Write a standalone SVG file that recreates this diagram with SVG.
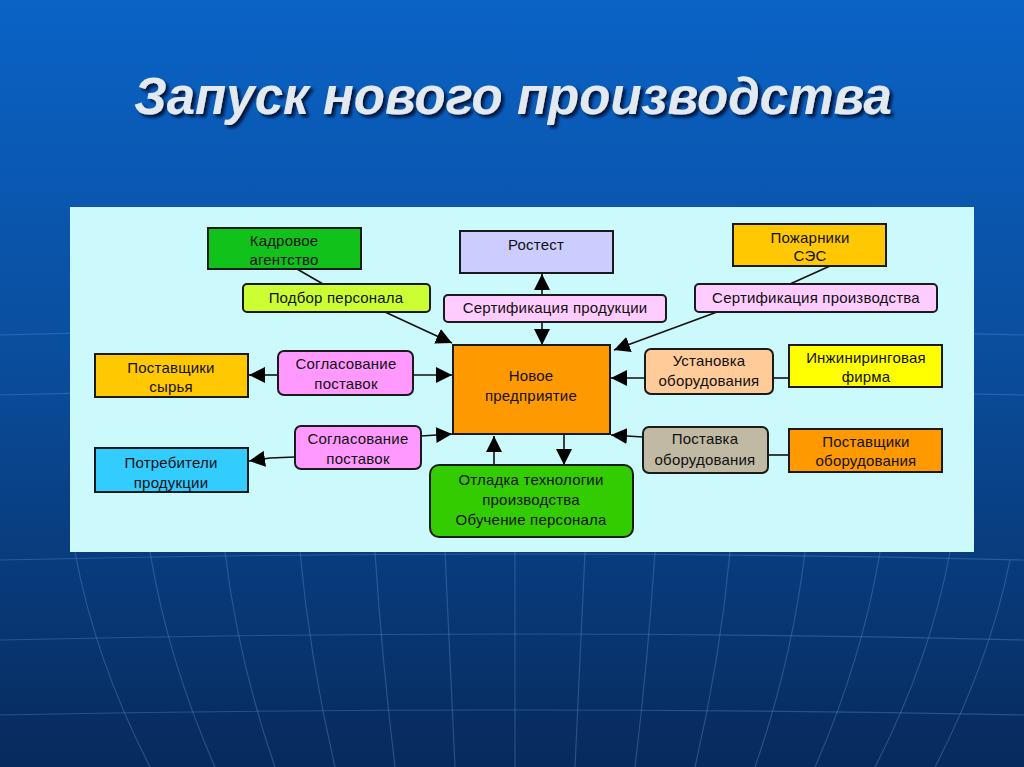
<svg xmlns="http://www.w3.org/2000/svg" width="1024" height="767" viewBox="0 0 1024 767">
<defs>
<linearGradient id="bg" x1="0" y1="0" x2="0" y2="1">
<stop offset="0" stop-color="#0a63c6"/>
<stop offset="0.45" stop-color="#0a4e9e"/>
<stop offset="1" stop-color="#072a5c"/>
</linearGradient>
<marker id="ah" viewBox="0 0 10 10" refX="10" refY="5" markerWidth="16" markerHeight="16" markerUnits="userSpaceOnUse" orient="auto">
<path d="M0,0 L10,5 L0,10 z" fill="#000"/>
</marker>
<filter id="sh" x="-5%" y="-20%" width="110%" height="140%">
<feDropShadow dx="3" dy="3" stdDeviation="1.5" flood-color="#001030" flood-opacity="0.9"/>
</filter>
</defs>
<style>
.box{stroke:#1a1a1a;stroke-width:2}
.t{font-family:"Liberation Sans",Arial,sans-serif;font-size:15px;fill:#111;text-anchor:middle;letter-spacing:0.2px}
.c{stroke:#111;stroke-width:1.6;fill:none}
.ca{stroke:#111;stroke-width:1.6;fill:none;marker-end:url(#ah)}
.g{stroke:#5f95d6;stroke-width:1.2;fill:none;opacity:0.35}
</style>
<rect width="1024" height="767" fill="url(#bg)"/>
<g id="globe-lines">
<path class="g" d="M0,335 Q512,320 1024,335"/>
<path class="g" d="M0,395 Q512,382 1024,395"/>
<path class="g" d="M0,560 Q512,548 1024,560"/>
<path class="g" d="M0,640 Q512,628 1024,640"/>
<path class="g" d="M0,715 Q512,705 1024,715"/>
<path class="g" d="M75,552 Q95,660 150,767"/>
<path class="g" d="M150,552 Q168,660 215,767"/>
<path class="g" d="M225,552 Q238,660 275,767"/>
<path class="g" d="M300,552 Q310,660 335,767"/>
<path class="g" d="M375,552 Q382,660 395,767"/>
<path class="g" d="M445,552 Q450,660 455,767"/>
<path class="g" d="M515,552 L515,767"/>
<path class="g" d="M585,552 Q580,660 575,767"/>
<path class="g" d="M655,552 Q648,660 635,767"/>
<path class="g" d="M730,552 Q720,660 695,767"/>
<path class="g" d="M805,552 Q792,660 755,767"/>
<path class="g" d="M880,552 Q862,660 815,767"/>
<path class="g" d="M950,552 Q930,660 875,767"/>
<path class="g" d="M1010,560 Q990,660 935,767"/>
</g>
<text x="513" y="114" filter="url(#sh)" style="font-family:'Liberation Sans',Arial,sans-serif;font-size:51px;font-weight:bold;font-style:italic;fill:#e2e9f0;text-anchor:middle">Запуск нового производства</text>
<rect x="70" y="207" width="904" height="345" fill="#ccf9fb"/>
<g id="connectors">
<line class="c" x1="297" y1="269" x2="323" y2="284"/>
<line class="c" x1="830" y1="266" x2="790" y2="284"/>
<line class="c" x1="789" y1="378" x2="773" y2="378"/>
<line class="c" x1="789" y1="455" x2="768" y2="455"/>
<line class="ca" x1="385" y1="312" x2="452" y2="343"/>
<line class="ca" x1="542" y1="295" x2="542" y2="274"/>
<line class="ca" x1="542" y1="322" x2="542" y2="345"/>
<line class="ca" x1="717" y1="312" x2="614" y2="350"/>
<line class="ca" x1="278" y1="375" x2="249" y2="375"/>
<line class="ca" x1="413" y1="375" x2="452" y2="375"/>
<line class="ca" x1="645" y1="378" x2="611" y2="378"/>
<line class="ca" x1="421" y1="436" x2="452" y2="434"/>
<polyline class="ca" points="295,457 270,458 249,461"/>
<line class="ca" x1="643" y1="437" x2="611" y2="435"/>
<line class="ca" x1="494" y1="465" x2="494" y2="436"/>
<line class="ca" x1="564" y1="435" x2="564" y2="465"/>
</g>
<g id="kadrovoe">
<rect class="box" x="208" y="228" width="153" height="41" fill="#10c21a"/>
<text class="t" x="284" y="246">Кадровое</text>
<text class="t" x="284" y="265">агентство</text>
</g>
<g id="rostest">
<rect class="box" x="460" y="231" width="153" height="42" fill="#ccccff"/>
<text class="t" x="536" y="250">Ростест</text>
</g>
<g id="pozharniki">
<rect class="box" x="733" y="224" width="153" height="42" fill="#ffc800"/>
<text class="t" x="810" y="243">Пожарники</text>
<text class="t" x="810" y="261">СЭС</text>
</g>
<g id="podbor">
<rect class="box" x="243" y="284" width="187" height="28" rx="4" fill="#ccff33"/>
<text class="t" x="336" y="303">Подбор персонала</text>
</g>
<g id="sert-prod">
<rect class="box" x="444" y="295" width="222" height="27" rx="4" fill="#ffccff"/>
<text class="t" x="555" y="313">Сертификация продукции</text>
</g>
<g id="sert-proizv">
<rect class="box" x="695" y="284" width="242" height="28" rx="4" fill="#ffccff"/>
<text class="t" x="816" y="303">Сертификация производства</text>
</g>
<g id="postavshiki-syrya">
<rect class="box" x="95" y="354" width="153" height="43" fill="#ffc800"/>
<text class="t" x="171" y="373">Поставщики</text>
<text class="t" x="171" y="392">сырья</text>
</g>
<g id="soglas-1">
<rect class="box" x="278" y="351" width="135" height="44" rx="6" fill="#ff99ff"/>
<text class="t" x="346" y="369">Согласование</text>
<text class="t" x="346" y="389">поставок</text>
</g>
<g id="novoe">
<rect class="box" x="453" y="345" width="157" height="89" fill="#ff9900"/>
<text class="t" x="531" y="381">Новое</text>
<text class="t" x="531" y="401">предприятие</text>
</g>
<g id="ustanovka">
<rect class="box" x="645" y="349" width="128" height="45" rx="6" fill="#ffcc99"/>
<text class="t" x="709" y="366">Установка</text>
<text class="t" x="709" y="386">оборудования</text>
</g>
<g id="inzhiniring">
<rect class="box" x="789" y="345" width="153" height="42" fill="#ffff00"/>
<text class="t" x="866" y="363">Инжиниринговая</text>
<text class="t" x="866" y="382">фирма</text>
</g>
<g id="soglas-2">
<rect class="box" x="295" y="426" width="126" height="43" rx="6" fill="#ff99ff"/>
<text class="t" x="358" y="444">Согласование</text>
<text class="t" x="358" y="464">поставок</text>
</g>
<g id="potrebiteli">
<rect class="box" x="95" y="448" width="153" height="44" fill="#33ccff"/>
<text class="t" x="171" y="468">Потребители</text>
<text class="t" x="171" y="488">продукции</text>
</g>
<g id="postavka">
<rect class="box" x="643" y="427" width="125" height="46" rx="6" fill="#c0b9a4"/>
<text class="t" x="705" y="444">Поставка</text>
<text class="t" x="705" y="465">оборудования</text>
</g>
<g id="postavshiki-obor">
<rect class="box" x="789" y="429" width="153" height="43" fill="#ff9900"/>
<text class="t" x="866" y="447">Поставщики</text>
<text class="t" x="866" y="466">оборудования</text>
</g>
<g id="otladka">
<rect class="box" x="430" y="465" width="203" height="72" rx="9" fill="#33cc00"/>
<text class="t" x="531" y="485">Отладка технологии</text>
<text class="t" x="531" y="505">производства</text>
<text class="t" x="531" y="525">Обучение персонала</text>
</g>
</svg>
